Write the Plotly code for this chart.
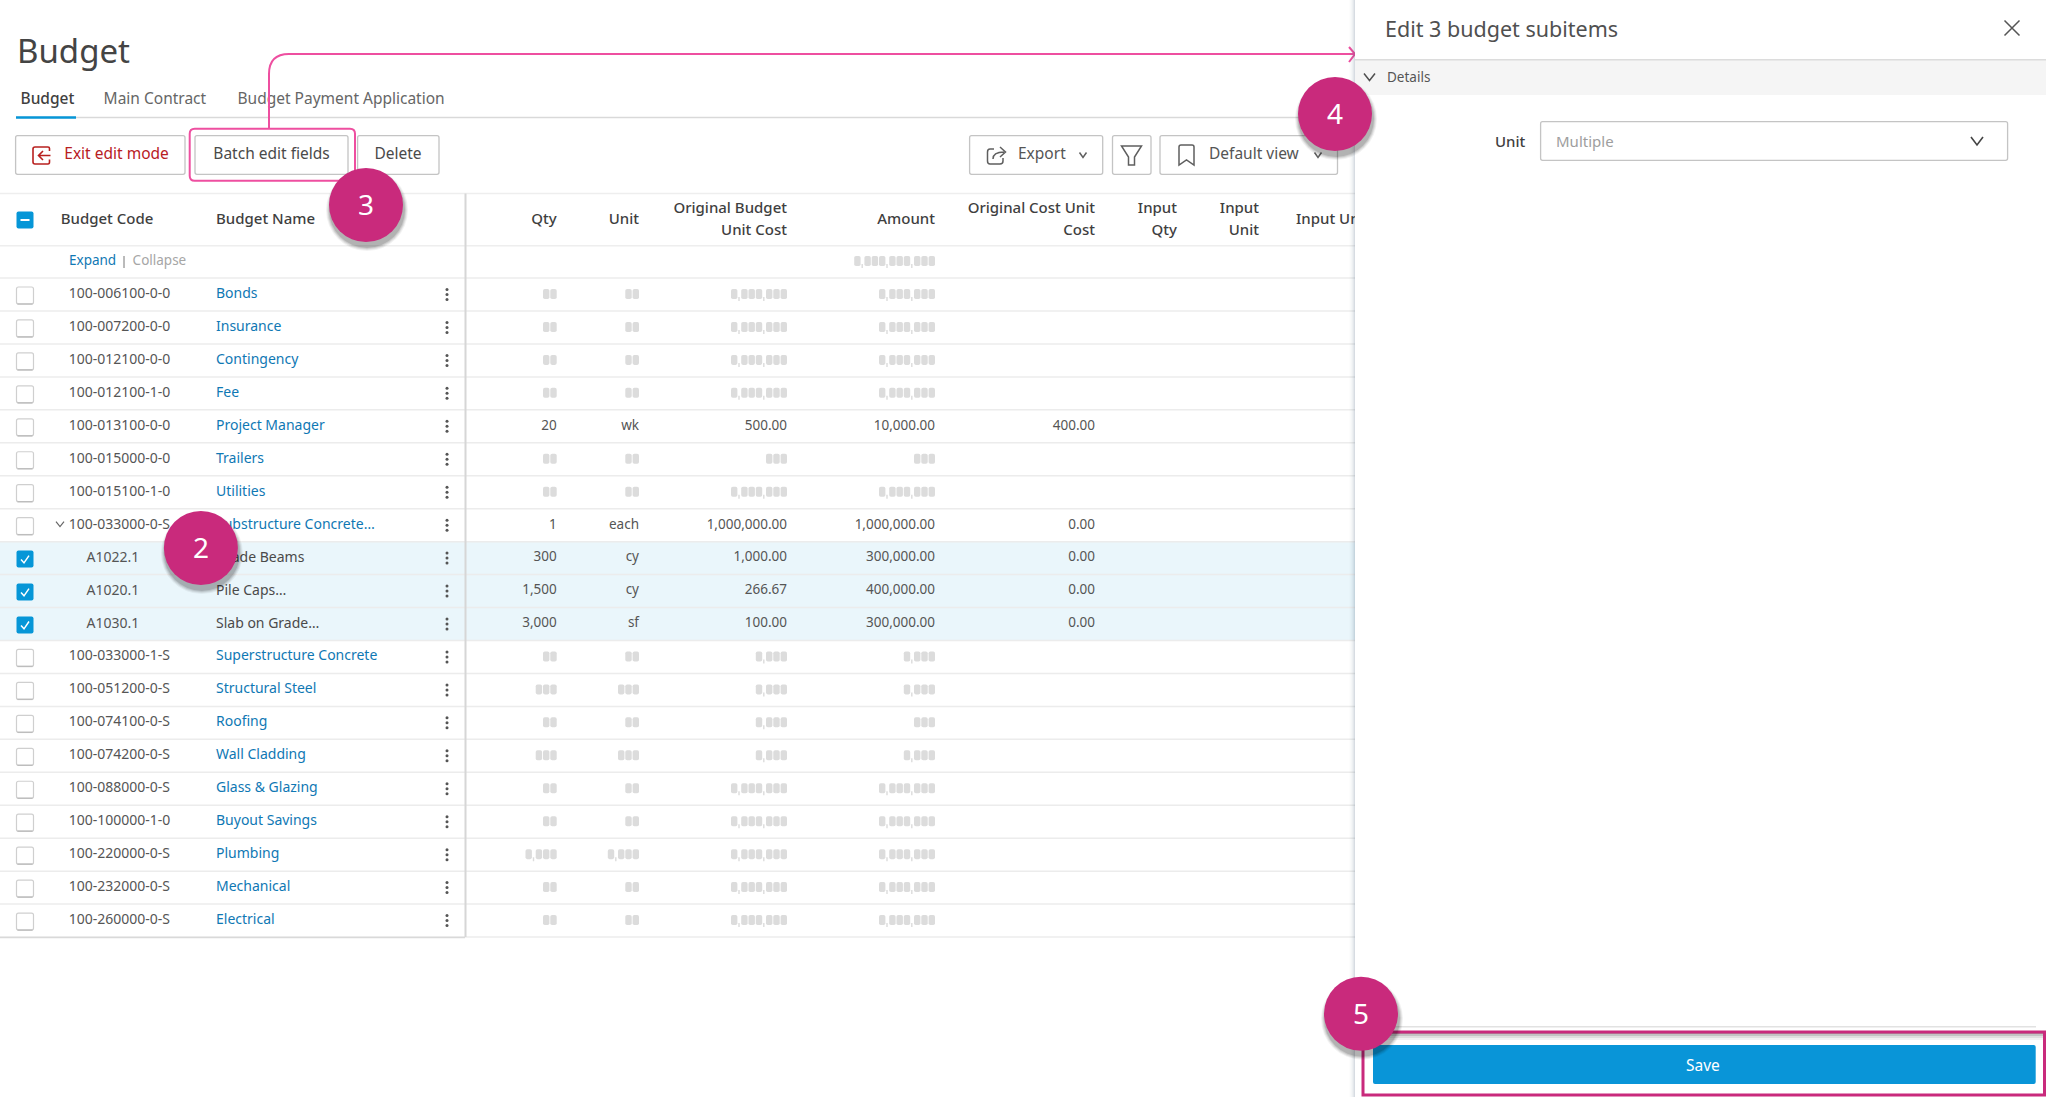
import plotly.graph_objects as go

# table content, top to bottom
codes = ["100-006100-0-0", "100-007200-0-0", "100-012100-0-0", "100-012100-1-0", "100-013100-0-0",
         "100-015000-0-0", "100-015100-1-0", "100-033000-0-S", "A1022.1", "A1020.1", "A1030.1",
         "100-033000-1-S", "100-051200-0-S", "100-074100-0-S", "100-074200-0-S", "100-088000-0-S",
         "100-100000-1-0", "100-220000-0-S", "100-232000-0-S", "100-260000-0-S"]
names = ["Bonds", "Insurance", "Contingency", "Fee", "Project Manager", "Trailers", "Utilities",
         "Substructure Concrete…", "Grade Beams", "Pile Caps…", "Slab on Grade…",
         "Superstructure Concrete", "Structural Steel", "Roofing", "Wall Cladding", "Glass & Glazing",
         "Buyout Savings", "Plumbing", "Mechanical", "Electrical"]
selected = [8, 9, 10]

# "#" strings are the greyed out digits of the original
qty = ["##", "##", "##", "##", "20", "##", "##", "1", "300", "1,500", "3,000",
       "##", "###", "##", "###", "##", "##", "#,###", "##", "##"]
unit = ["##", "##", "##", "##", "wk", "##", "##", "each", "cy", "cy", "sf",
        "##", "###", "##", "###", "##", "##", "#,###", "##", "##"]
unit_cost = ["#,###,###", "#,###,###", "#,###,###", "#,###,###", "500.00", "###", "#,###,###",
             "1,000,000.00", "1,000.00", "266.67", "100.00", "#,###", "#,###", "#,###", "#,###",
             "#,###,###", "#,###,###", "#,###,###", "#,###,###", "#,###,###"]
amount = ["#,###,###", "#,###,###", "#,###,###", "#,###,###", "10,000.00", "###", "#,###,###",
          "1,000,000.00", "300,000.00", "400,000.00", "300,000.00", "#,###", "#,###", "###", "#,###",
          "#,###,###", "#,###,###", "#,###,###", "#,###,###", "#,###,###"]
orig_cost = ["", "", "", "", "400.00", "", "", "0.00", "0.00", "0.00", "0.00",
             "", "", "", "", "", "", "", "", ""]
amount_total = "#,###,###,###"

tabs = ["Budget", "Main Contract", "Budget Payment Application"]
badges = ["2", "3", "4", "5"]

FONT = "Noto Sans"
BLUE = "#0696d7"
LINK = "#0f78b4"
TEXT = "#555555"
DARK = "#3f3f3f"
PINK = "#ee4fa0"
BADGE = "#c92a7c"
RED = "#b8201f"
LINE = "#ececec"
BORDER = "#c4c4c4"

W, H = 2046, 1097
ROW0, PITCH = 294.5, 32.95
PANEL_X = 1355

shapes = []
annotations = []
fig = go.Figure()


def row_y(i):
    return ROW0 + PITCH * i


def rrect_path(x0, y0, x1, y1, r):
    return (f"M {x0 + r} {y0} L {x1 - r} {y0} Q {x1} {y0} {x1} {y0 + r} L {x1} {y1 - r} "
            f"Q {x1} {y1} {x1 - r} {y1} L {x0 + r} {y1} Q {x0} {y1} {x0} {y1 - r} "
            f"L {x0} {y0 + r} Q {x0} {y0} {x0 + r} {y0} Z")


def rect(x0, y0, x1, y1, fill=None, line=None, width=1, r=0, layer="below"):
    s = {"type": "path", "path": rrect_path(x0, y0, x1, y1, r), "layer": layer,
         "line": {"color": line or "rgba(0,0,0,0)", "width": width if line else 0}}
    if fill:
        s["fillcolor"] = fill
    shapes.append(s)


def path(d, color, width=1.5, layer="below", fill=None):
    s = {"type": "path", "path": d, "layer": layer, "line": {"color": color, "width": width}}
    if fill:
        s["fillcolor"] = fill
    shapes.append(s)


def hline(y, x0, x1, color=LINE, width=1.5, layer="below"):
    shapes.append({"type": "line", "x0": x0, "x1": x1, "y0": y, "y1": y, "layer": layer,
                   "line": {"color": color, "width": width}})


def chevron(x, y, w, h, color, width=1.5, layer="below"):
    path(f"M {x - w} {y - h} L {x} {y + h} L {x + w} {y - h}", color, width, layer)


def text(xs, ys, labels, pos, size, color, weight=400):
    fig.add_trace(go.Scatter(x=xs, y=ys, text=labels, mode="text", textposition=pos, hoverinfo="skip",
                             cliponaxis=False, showlegend=False,
                             textfont={"family": FONT, "size": size, "color": color, "weight": weight}))


def note(x, y, label, anchor, size, color, weight=400):
    annotations.append({"x": x, "y": y, "text": label, "showarrow": False, "xanchor": anchor, "yanchor": "middle",
                        "xref": "x", "yref": "y", "font": {"family": FONT, "size": size, "color": color,
                                                          "weight": weight}})


def draw_mask(right, y, mask, color="#dcdcdc"):
    x = right
    for ch in reversed(mask):
        if ch == "#":
            rect(x - 6.4, y - 5, x, y + 5, fill=color, r=1.8)
            x -= 7.3
        else:
            rect(x - 2, y + 3, x - 0.6, y + 7, fill=color)
            x -= 2.9


def cell(right, i, value):
    if not value:
        return
    if "#" in value:
        draw_mask(right, row_y(i) - 0.5, value)
    else:
        right_cells[0].append(right)
        right_cells[1].append(row_y(i))
        right_cells[2].append(value)


def checkbox(y, state):
    x0, x1 = 16.5, 33.5
    if state == "off":
        rect(x0, y - 8.5, x1, y + 8.5, fill="white", line="#cfcfcf", width=1.2, r=2)
        hline(y + 8.5, x0 + 1, x1 - 1, "#bdbdbd", 1.4)
    else:
        rect(x0, y - 8.5, x1, y + 8.5, fill=BLUE, r=2)
        if state == "on":
            path(f"M {x0 + 4.5} {y + 0.5} L {x0 + 7.5} {y + 3.8} L {x1 - 4.5} {y - 3.5}", "white", 1.5)
        else:
            rect(x0 + 4, y - 1, x1 - 4, y + 1, fill="white")


def button(x0, x1):
    rect(x0, 135.7, x1, 174.3, fill="white", line=BORDER, width=1.3, r=2)


# selected rows and table rules
rect(0, row_y(selected[0]) - PITCH / 2, PANEL_X, row_y(selected[-1]) + PITCH / 2, fill="#eaf6fb")
hline(193.5, 0, PANEL_X, "#eeeeee", 1.5)
hline(245.7, 0, PANEL_X, "#eeeeee", 1.5)
for i in range(len(codes) + 1):
    hline(row_y(i) - PITCH / 2, 0, PANEL_X)
hline(row_y(19) + PITCH / 2 + 0.5, 0, 465, "#d9d9d9", 1.5)
shapes.append({"type": "line", "x0": 465.5, "x1": 465.5, "y0": 193.5, "y1": 937, "layer": "below",
               "line": {"color": "#d6d6d6", "width": 2}})

# tabs
hline(117.5, 16, PANEL_X, "#d9d9d9", 1.5)
rect(16, 116.3, 76, 118.7, fill=BLUE)
text([20.5], [100.5], [tabs[0]], "middle right", 15.5, DARK, 500)
text([103.6, 237.5], [100.5, 100.5], tabs[1:], "middle right", 15.5, "#666666")
text([17], [55], ["Budget"], "middle right", 33, "#444444")

# toolbar
button(15.6, 185)
button(195, 348)
button(357.6, 439)
button(969.6, 1102.7)
button(1112.5, 1151)
button(1160, 1337.5)
text([64.3], [155.5], ["Exit edit mode"], "middle right", 15.5, RED)
text([271.5, 398], [155.5, 155.5], ["Batch edit fields", "Delete"], "middle center", 15.5, "#4a4a4a")
text([1018, 1209], [155.5, 155.5], ["Export", "Default view"], "middle right", 15.5, "#555555")
path("M 49.5 151 L 49.5 148.5 Q 49.5 147 48 147 L 35 147 Q 33 147 33 149 L 33 162 Q 33 164 35 164 "
     "L 48 164 Q 49.5 164 49.5 162 L 49.5 159.5 M 50.5 155.5 L 39 155.5 M 43 151 L 38.5 155.5 L 43 160", RED, 1.6)
path("M 994 149 L 990 149 Q 987.5 149 987.5 152 L 987.5 161 Q 987.5 164 990 164 L 1000 164 Q 1003 164 1003 161 "
     "L 1003 158 M 993 159 Q 993 152 1004 152 M 1000 147 L 1005.5 152 L 1000 157", "#5f5f5f", 1.5)
chevron(1083, 155, 3.5, 2.5, "#5f5f5f")
path("M 1121.5 146 L 1141.5 146 L 1134.5 157 L 1134.5 165 L 1128.5 165 L 1128.5 157 Z", "#5f5f5f", 1.5)
path("M 1179 147 Q 1179 145 1181 145 L 1192 145 Q 1194 145 1194 147 L 1194 165 L 1186.5 160 L 1179 165 Z",
     "#5f5f5f", 1.5)
chevron(1318, 155, 3.5, 2.5, "#5f5f5f")

# table header
checkbox(220, "mixed")
text([60.7, 216], [220, 220], ["Budget Code", "Budget Name"], "middle right", 15, DARK, 500)
text([556.7, 639, 935, 1296], [220, 220, 220, 220], ["Qty", "Unit", "Amount", ""], "middle left", 15, DARK, 500)
text([787, 787, 1095, 1095, 1177, 1177, 1259, 1259],
     [209, 231, 209, 231, 209, 231, 209, 231],
     ["Original Budget", "Unit Cost", "Original Cost Unit", "Cost", "Input", "Qty", "Input", "Unit"],
     "middle left", 15, DARK, 500)
text([1296], [220], ["Input Unit Cost"], "middle right", 15, DARK, 500)

text([69], [262], ["Expand"], "middle right", 13.5, LINK)
text([132.6], [262], ["Collapse"], "middle right", 13.5, "#a6a6a6")
shapes.append({"type": "line", "x0": 124, "x1": 124, "y0": 256, "y1": 268, "layer": "below",
               "line": {"color": "#777777", "width": 1}})
draw_mask(935, 261, amount_total)

# table body
right_cells = [[], [], []]
for i, code in enumerate(codes):
    y = row_y(i)
    checkbox(y + 1, "on" if i in selected else "off")
    cell(556.7, i, qty[i])
    cell(639, i, unit[i])
    cell(787, i, unit_cost[i])
    cell(935, i, amount[i])
    cell(1095, i, orig_cost[i])
chevron(60, row_y(7) - 1, 4, 2.5, "#666666", 1.2)
text(right_cells[0], right_cells[1], right_cells[2], "middle left", 13.5, TEXT)

parents = [i for i in range(len(codes)) if i not in selected]
text([68.7] * len(parents), [row_y(i) for i in parents], [codes[i] for i in parents], "middle right", 14, TEXT)
text([86.6] * len(selected), [row_y(i) for i in selected], [codes[i] for i in selected], "middle right", 14, TEXT)
text([216] * len(parents), [row_y(i) for i in parents], [names[i] for i in parents], "middle right", 14, LINK)
text([216] * len(selected), [row_y(i) for i in selected], [names[i] for i in selected], "middle right", 14, "#4a4a4a")

dots_y = [row_y(i) + d for i in range(len(codes)) for d in (-5, 0, 5)]
fig.add_trace(go.Scatter(x=[447] * len(dots_y), y=dots_y, mode="markers", hoverinfo="skip", showlegend=False,
                         marker={"color": "#555555", "size": 3, "symbol": "circle"}))

# callouts on the table
rect(189.7, 128.7, 355, 180.7, line=PINK, width=2, r=5, layer="above")
path(f"M 269 128 L 269 74 Q 269 54 289 54 L {PANEL_X - 1} 54", PINK, 2, "above")
path(f"M {PANEL_X - 6} 47 L {PANEL_X} 54 L {PANEL_X - 6} 62", PINK, 2, "above")

# side panel
for k, alpha in enumerate([0.012, 0.018, 0.025, 0.035, 0.05, 0.07]):
    rect(PANEL_X - 6 + k, 0, PANEL_X, H, fill=f"rgba(60,80,110,{alpha})", layer="above")
rect(PANEL_X, 0, W, H, fill="white", layer="above")
rect(PANEL_X, 59.7, W, 95, fill="#f5f5f5", layer="above")
hline(59.7, PANEL_X, W, "#dcdcdc", 1.5, "above")
note(1383, 28, "Edit 3 budget subitems", "left", 21.5, "#505050")
path("M 2004.5 20.5 L 2019.5 35.5 M 2019.5 20.5 L 2004.5 35.5", "#555555", 1.5, "above")
chevron(1369.5, 77, 5.5, 3.5, "#505050", 1.5, "above")
note(1385, 77, "Details", "left", 13.5, "#555555")
note(1528, 141, "Unit", "right", 15, DARK, 500)
rect(1540.6, 121.7, 2007.6, 160.3, fill="white", line=BORDER, width=1.3, r=2, layer="above")
note(1554, 141, "Multiple", "left", 15, "#9e9e9e")
chevron(1977, 141, 6, 4, "#444444", 1.6, "above")

hline(1026.7, 1360, 2036, "#e2e2e2", 1.5, "above")
for k, alpha in enumerate([0.05, 0.08, 0.12, 0.16]):
    rect(1364, 1032, W - 1, 1040 - k * 2, fill=f"rgba(0,0,0,{alpha})", layer="above")
rect(1373, 1045, 2035.7, 1084, fill="#0995d8", r=2, layer="above")
note(1703, 1065, "Save", "center", 15.5, "white")
rect(1363, 1032, W - 1.5, 1095, line=BADGE, width=3, layer="above")

# numbered badges
badge_x = [200.9, 366, 1335, 1361]
badge_y = [548, 205, 114, 1013.7]
for label, x, y in zip(badges, badge_x, badge_y):
    for grow, alpha in [(4, 0.05), (3, 0.07), (2, 0.09), (1, 0.12)]:
        shapes.append({"type": "circle", "x0": x - 37 - grow + 1, "x1": x + 37 + grow + 1, "y0": y - 37 - grow + 5,
                       "y1": y + 37 + grow + 5, "layer": "above", "fillcolor": f"rgba(0,0,0,{alpha})",
                       "line": {"width": 0}})
    shapes.append({"type": "circle", "x0": x - 37, "x1": x + 37, "y0": y - 37, "y1": y + 37, "layer": "above",
                   "fillcolor": BADGE, "line": {"width": 0}})
    note(x, y - 1, label, "center", 28, "white")

fig.update_layout(
    width=W,
    height=H,
    margin={"l": 0, "r": 0, "t": 0, "b": 0},
    paper_bgcolor="white",
    plot_bgcolor="white",
    showlegend=False,
    hovermode=False,
    xaxis={"range": [0, W], "visible": False, "fixedrange": True},
    yaxis={"range": [H, 0], "visible": False, "fixedrange": True},
    shapes=shapes,
    annotations=annotations,
)
fig.write_html("out.html", config={"displayModeBar": False}, post_script="document.body.style.margin='0';")
